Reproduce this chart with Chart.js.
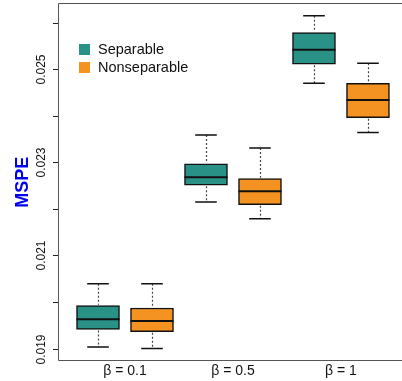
<!DOCTYPE html>
<html>
<head>
<meta charset="utf-8">
<script src="https://cdn.jsdelivr.net/npm/chart.js@4"></script>
<style>
  body { margin: 0; background: #fff; }
  #wrap { width: 402px; height: 381px; }
</style>
</head>
<body>
<div id="wrap"><canvas id="mspe-chart" width="402" height="381"></canvas></div>
<script>
// groups and box stats
const groups = ['\u03B2 = 0.1', '\u03B2 = 0.5', '\u03B2 = 1'];
const seriesNames = ['Separable', 'Nonseparable'];
const seriesColors = ['#2a9187', '#f49222'];

const sepMin = [0.01903, 0.02215, 0.02470];
const sepQ1  = [0.01941, 0.02251, 0.02511];
const sepMed = [0.01963, 0.02268, 0.02542];
const sepQ3  = [0.01992, 0.02297, 0.02579];
const sepMax = [0.02039, 0.02359, 0.02615];

const nonMin = [0.01900, 0.02179, 0.02364];
const nonQ1  = [0.01936, 0.02209, 0.02396];
const nonMed = [0.01959, 0.02238, 0.02434];
const nonQ3  = [0.01987, 0.02265, 0.02470];
const nonMax = [0.02039, 0.02331, 0.02513];

const yTicks = [0.019, 0.020, 0.021, 0.022, 0.023, 0.024, 0.025, 0.026];
const yTickLabels = ['0.019', '', '0.021', '', '0.023', '', '0.025', ''];

const boxOffset = 0.25;
const capHalf = 0.1;

const stats = [
  { min: sepMin, q1: sepQ1, med: sepMed, q3: sepQ3, max: sepMax, off: -boxOffset },
  { min: nonMin, q1: nonQ1, med: nonMed, q3: nonQ3, max: nonMax, off: boxOffset },
];

const datasets = stats.map((s, i) => ({
  label: seriesNames[i],
  data: groups.map((g, j) => ({ x: j + 1 + s.off, y: [s.q1[j], s.q3[j]] })),
  backgroundColor: seriesColors[i],
  borderColor: '#111',
  borderWidth: 1.5,
  borderSkipped: false,
  barThickness: 43,
  grouped: false,
}));

const boxPlugin = {
  id: 'boxExtras',
  afterDatasetsDraw(chart) {
    const ctx = chart.ctx;
    const xs = chart.scales.x;
    const ys = chart.scales.y;
    const area = chart.chartArea;
    ctx.save();

    // whiskers + medians
    stats.forEach((s) => {
      groups.forEach((g, j) => {
        const cx = Math.round(xs.getPixelForValue(j + 1 + s.off)) + 0.5;
        const x0 = xs.getPixelForValue(j + 1 + s.off - capHalf);
        const x1 = xs.getPixelForValue(j + 1 + s.off + capHalf);
        const yMin = ys.getPixelForValue(s.min[j]);
        const yMax = ys.getPixelForValue(s.max[j]);
        const yQ1 = ys.getPixelForValue(s.q1[j]);
        const yQ3 = ys.getPixelForValue(s.q3[j]);

        ctx.strokeStyle = '#444';
        ctx.lineWidth = 1.2;
        ctx.setLineDash([2, 2]);
        ctx.beginPath();
        ctx.moveTo(cx, yMax); ctx.lineTo(cx, yQ3 - 1);
        ctx.moveTo(cx, yQ1 + 1); ctx.lineTo(cx, yMin);
        ctx.stroke();
        ctx.setLineDash([]);

        ctx.strokeStyle = '#111';
        ctx.lineWidth = 1.5;
        ctx.beginPath();
        ctx.moveTo(x0, yMax); ctx.lineTo(x1, yMax);
        ctx.moveTo(x0, yMin); ctx.lineTo(x1, yMin);
        ctx.stroke();

        const bx0 = xs.getPixelForValue(j + 1 + s.off) - 21.5;
        const yMed = ys.getPixelForValue(s.med[j]);
        ctx.lineWidth = 2;
        ctx.beginPath();
        ctx.moveTo(bx0, yMed); ctx.lineTo(bx0 + 43, yMed);
        ctx.stroke();
      });
    });

    // frame (right side is cut off in the original)
    ctx.strokeStyle = '#555';
    ctx.lineWidth = 1;
    ctx.beginPath();
    ctx.moveTo(chart.width, area.top + 0.5);
    ctx.lineTo(area.left + 0.5, area.top + 0.5);
    ctx.lineTo(area.left + 0.5, area.bottom + 0.5);
    ctx.lineTo(chart.width, area.bottom + 0.5);
    ctx.stroke();

    // y ticks and rotated labels
    ctx.strokeStyle = '#222';
    ctx.fillStyle = '#111';
    ctx.font = '12px "Liberation Sans", Arial, sans-serif';
    ctx.textAlign = 'center';
    ctx.textBaseline = 'middle';
    yTicks.forEach((v, i) => {
      const y = Math.round(ys.getPixelForValue(v)) + 0.5;
      ctx.beginPath();
      ctx.moveTo(area.left - 5, y); ctx.lineTo(area.left, y);
      ctx.stroke();
      if (yTickLabels[i]) {
        ctx.save();
        ctx.translate(42, y);
        ctx.rotate(-Math.PI / 2);
        ctx.fillText(yTickLabels[i], 0, 0);
        ctx.restore();
      }
    });

    // y title
    ctx.save();
    ctx.fillStyle = '#0000ee';
    ctx.font = 'bold 18px "Liberation Sans", Arial, sans-serif';
    ctx.translate(23, ys.getPixelForValue(0.02257));
    ctx.rotate(-Math.PI / 2);
    ctx.fillText('MSPE', 0, 0);
    ctx.restore();

    // group labels
    ctx.fillStyle = '#111';
    ctx.font = '14px "Liberation Sans", Arial, sans-serif';
    groups.forEach((g, j) => {
      ctx.fillText(g, xs.getPixelForValue(j + 1), 371);
    });

    // legend
    ctx.textAlign = 'left';
    ctx.font = '14.5px "Liberation Sans", Arial, sans-serif';
    seriesNames.forEach((n, i) => {
      const top = 44 + i * 18;
      ctx.fillStyle = seriesColors[i];
      ctx.fillRect(79, top, 11, 11);
      ctx.fillStyle = '#111';
      ctx.fillText(n, 98, top + 6);
    });

    ctx.restore();
  },
};

new Chart(document.getElementById('mspe-chart').getContext('2d'), {
  type: 'bar',
  data: { datasets },
  options: {
    responsive: false,
    animation: false,
    layout: { padding: { left: 58, top: 3, right: 0, bottom: 21 } },
    plugins: { legend: { display: false }, tooltip: { enabled: false } },
    scales: {
      x: { type: 'linear', min: 0.3796, max: 3.565, offset: false, display: false },
      y: { type: 'linear', min: 0.018753, max: 0.026424, display: false },
    },
  },
  plugins: [boxPlugin],
});
</script>
</body>
</html>
